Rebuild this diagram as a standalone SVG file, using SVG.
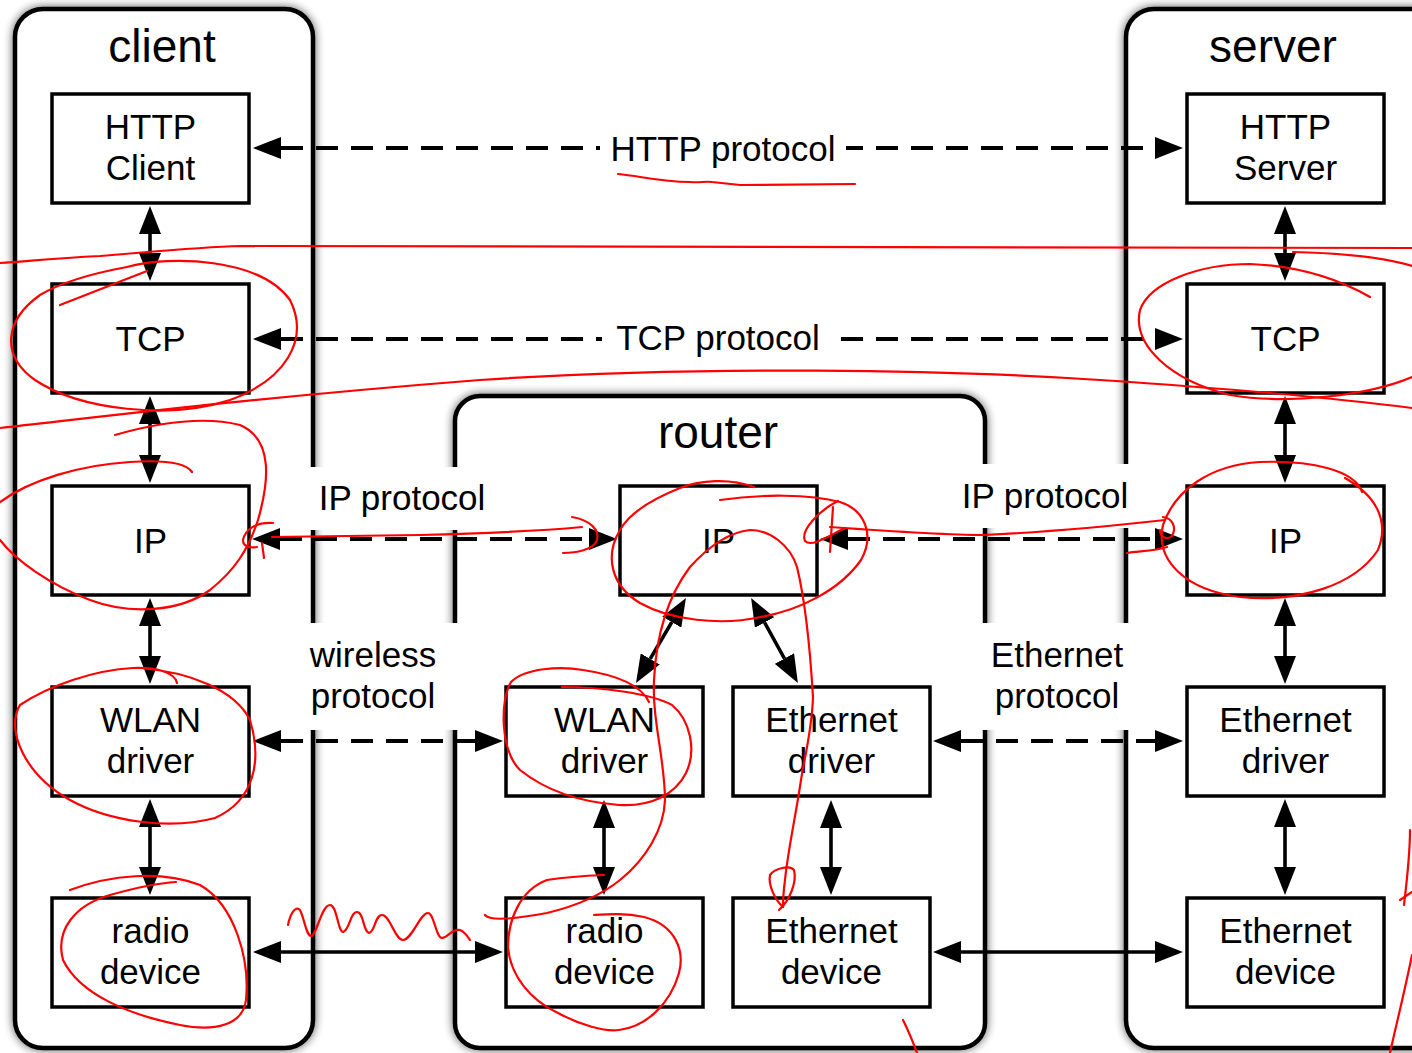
<svg xmlns="http://www.w3.org/2000/svg" width="1412" height="1053" viewBox="0 0 1412 1053">
<style>
.cont{fill:#fff;stroke:#000;stroke-width:4.5;filter:url(#sh)}
.box{fill:#fff;stroke:#000;stroke-width:3.5}
.t{font-family:"Liberation Sans",Arial,Helvetica,sans-serif;font-size:35px;fill:#000;text-anchor:middle}
.title{font-size:46px}
.solid{stroke:#000;stroke-width:3.6;fill:none;marker-start:url(#ah);marker-end:url(#ah)}
.dash{stroke:#000;stroke-width:4;fill:none;stroke-dasharray:22 13;marker-start:url(#ah);marker-end:url(#ah)}
.bg{fill:#fff;stroke:none}
.red{fill:none;stroke:#f00;stroke-width:2.2;stroke-linecap:round;stroke-linejoin:round}
</style>
<defs>
<filter id="sh" x="-10%" y="-5%" width="120%" height="110%">
<feGaussianBlur in="SourceAlpha" stdDeviation="5"/>
<feComponentTransfer><feFuncA type="linear" slope="0.65"/></feComponentTransfer>
<feMerge><feMergeNode/><feMergeNode in="SourceGraphic"/></feMerge>
</filter>
<marker id="ah" viewBox="0 0 28 22" markerWidth="28" markerHeight="22" refX="0" refY="11" orient="auto-start-reverse" markerUnits="userSpaceOnUse">
<path d="M0,0 L28,11 L0,22 z" fill="#000"/>
</marker>
</defs>
<rect width="1412" height="1053" fill="#fff"/>

<g id="client">
<rect class="cont" x="15" y="9" width="298" height="1039" rx="28"/>
<text class="t title" x="162" y="62">client</text>
</g>
<g id="server">
<rect class="cont" x="1126" y="9" width="330" height="1039" rx="28"/>
<text class="t title" x="1273" y="62">server</text>
</g>
<g id="router">
<rect class="cont" x="455" y="396" width="530" height="652" rx="25"/>
<text class="t title" x="718" y="448">router</text>
</g>

<g id="client-http"><rect class="box" x="52" y="94" width="197" height="109"/><text class="t" x="150.5" y="138.5">HTTP</text><text class="t" x="150.5" y="179.5">Client</text></g>
<g id="client-tcp"><rect class="box" x="52" y="284" width="197" height="109"/><text class="t" x="150.5" y="351">TCP</text></g>
<g id="client-ip"><rect class="box" x="52" y="486" width="197" height="109"/><text class="t" x="150.5" y="553">IP</text></g>
<g id="client-wlan"><rect class="box" x="52" y="687" width="197" height="109"/><text class="t" x="150.5" y="731.5">WLAN</text><text class="t" x="150.5" y="772.5">driver</text></g>
<g id="client-radio"><rect class="box" x="52" y="898" width="197" height="109"/><text class="t" x="150.5" y="942.5">radio</text><text class="t" x="150.5" y="983.5">device</text></g>

<g id="server-http"><rect class="box" x="1187" y="94" width="197" height="109"/><text class="t" x="1285.5" y="138.5">HTTP</text><text class="t" x="1285.5" y="179.5">Server</text></g>
<g id="server-tcp"><rect class="box" x="1187" y="284" width="197" height="109"/><text class="t" x="1285.5" y="351">TCP</text></g>
<g id="server-ip"><rect class="box" x="1187" y="486" width="197" height="109"/><text class="t" x="1285.5" y="553">IP</text></g>
<g id="server-eth-driver"><rect class="box" x="1187" y="687" width="197" height="109"/><text class="t" x="1285.5" y="731.5">Ethernet</text><text class="t" x="1285.5" y="772.5">driver</text></g>
<g id="server-eth-device"><rect class="box" x="1187" y="898" width="197" height="109"/><text class="t" x="1285.5" y="942.5">Ethernet</text><text class="t" x="1285.5" y="983.5">device</text></g>

<g id="router-ip"><rect class="box" x="620" y="486" width="197" height="109"/><text class="t" x="718.5" y="553">IP</text></g>
<g id="router-wlan"><rect class="box" x="506" y="687" width="197" height="109"/><text class="t" x="604.5" y="731.5">WLAN</text><text class="t" x="604.5" y="772.5">driver</text></g>
<g id="router-eth-driver"><rect class="box" x="733" y="687" width="197" height="109"/><text class="t" x="831.5" y="731.5">Ethernet</text><text class="t" x="831.5" y="772.5">driver</text></g>
<g id="router-radio"><rect class="box" x="506" y="898" width="197" height="109"/><text class="t" x="604.5" y="942.5">radio</text><text class="t" x="604.5" y="983.5">device</text></g>
<g id="router-eth-device"><rect class="box" x="733" y="898" width="197" height="109"/><text class="t" x="831.5" y="942.5">Ethernet</text><text class="t" x="831.5" y="983.5">device</text></g>

<g id="connectors">
<line class="solid" x1="150" y1="234" x2="150" y2="253"/>
<line class="solid" x1="150" y1="424" x2="150" y2="455"/>
<line class="solid" x1="150" y1="626" x2="150" y2="656"/>
<line class="solid" x1="150" y1="827" x2="150" y2="867"/>
<line class="solid" x1="1285" y1="234" x2="1285" y2="253"/>
<line class="solid" x1="1285" y1="424" x2="1285" y2="455"/>
<line class="solid" x1="1285" y1="626" x2="1285" y2="656"/>
<line class="solid" x1="1285" y1="827" x2="1285" y2="867"/>
<line class="solid" x1="604" y1="828" x2="604" y2="867"/>
<line class="solid" x1="831" y1="828" x2="831" y2="867"/>
<line class="solid" x1="671.8" y1="622.1" x2="650.2" y2="658.9"/>
<line class="solid" x1="764.6" y1="622.5" x2="784.4" y2="658.5"/>
<line class="dash" x1="281" y1="148" x2="1155" y2="148"/>
<line class="dash" x1="281" y1="339" x2="1155" y2="339"/>
<line class="dash" x1="280" y1="539" x2="589" y2="539"/>
<line class="dash" x1="848" y1="539" x2="1155" y2="539"/>
<line class="dash" x1="281" y1="741" x2="475" y2="741"/>
<line class="dash" x1="961" y1="741" x2="1155" y2="741"/>
<line class="solid" x1="281" y1="952" x2="475" y2="952"/>
<line class="solid" x1="961" y1="952" x2="1155" y2="952"/>
</g>

<g id="labels">
<rect class="bg" x="600" y="128" width="246" height="42"/>
<text class="t" x="723" y="160.5">HTTP protocol</text>
<rect class="bg" x="602" y="318" width="238" height="42"/>
<text class="t" x="718" y="350">TCP protocol</text>
<rect class="bg" x="300" y="467" width="165" height="63"/>
<text class="t" x="402" y="510">IP protocol</text>
<rect class="bg" x="945" y="464" width="190" height="64"/>
<text class="t" x="1045" y="508">IP protocol</text>
<rect class="bg" x="300" y="623" width="165" height="107"/>
<text class="t" x="373" y="667">wireless</text>
<text class="t" x="373" y="708">protocol</text>
<rect class="bg" x="975" y="623" width="160" height="107"/>
<text class="t" x="1057" y="667">Ethernet</text>
<text class="t" x="1057" y="708">protocol</text>
</g>

<g id="annotations" class="red">
<path d="M618,174 C640,176 660,182 690,182 C700,183 705,181 712,182 L740,185 L855,184"/>
<path d="M0,263 C40,260 60,258 100,256 C150,252 200,247 240,246 L1412,248"/>
<path d="M0,428 C100,417 250,398 480,380 C700,365 950,370 1100,380 C1250,390 1350,400 1412,408"/>
<path d="M60,305 L147,271"/>
<path d="M127,267 C170,255 260,258 290,300 C310,340 285,380 230,400 C170,420 80,410 35,380 C0,355 5,320 40,295 C65,280 100,272 127,267"/>
<path d="M115,435 C150,425 200,415 240,425 C275,440 268,485 258,520 C248,550 235,570 210,590 C180,612 130,615 90,600 C50,585 15,560 0,540"/>
<path d="M0,502 C30,480 80,465 130,462 C160,460 185,462 192,472"/>
<path d="M273,523 C255,522 245,530 243,540 C243,547 250,548 257,547"/>
<path d="M262,543 L264,558"/>
<path d="M272,537 C300,537 350,536 420,535 C500,533 550,530 582,527"/>
<path d="M572,517 C590,520 600,530 597,540 C594,550 575,553 563,553"/>
<path d="M754,487 C730,478 700,480 680,488 C655,498 630,512 620,530 C605,555 610,585 640,603 C670,620 720,626 761,617 C800,610 840,590 861,560 C875,535 865,510 840,502 C810,494 760,494 720,500"/>
<path d="M838,501 C820,510 800,530 805,541 C812,548 830,535 845,528"/>
<path d="M833,507 L830,552"/>
<path d="M830,527 C900,532 950,535 983,535 C1050,532 1120,525 1165,520"/>
<path d="M1163,517 C1172,518 1177,527 1172,536 C1166,541 1160,536 1160,530"/>
<path d="M1127,553 C1140,551 1155,551 1167,547"/>
<path d="M1362,492 C1355,470 1310,460 1260,462 C1210,465 1175,490 1163,525 C1155,560 1185,590 1240,597 C1300,603 1355,585 1378,550 C1390,520 1375,495 1345,478"/>
<path d="M1370,297 C1340,280 1300,266 1250,264 C1200,264 1150,282 1140,310 C1132,345 1170,380 1230,395 C1290,405 1370,395 1412,377"/>
<path d="M1293,252 C1340,253 1380,256 1412,266"/>
<path d="M177,683 C175,672 155,667 133,668 C95,670 50,685 20,705 C5,730 25,775 70,800 C110,822 170,830 215,818 C255,800 262,760 250,720 C235,690 190,672 140,668"/>
<path d="M70,890 C110,875 160,870 200,885 C235,905 250,960 246,1000 C243,1025 215,1032 180,1025 C130,1015 80,995 63,960 C55,930 75,905 110,895 C135,888 160,883 176,882"/>
<path d="M288,925 C290,915 295,905 300,910 C305,920 306,937 312,936 C318,930 322,905 330,905 C337,905 338,932 343,932 C350,930 350,912 357,912 C364,912 363,932 369,933 C375,932 375,915 382,915 C390,915 395,940 403,940 C412,940 420,913 428,913 C434,913 436,938 442,938 C448,938 452,928 460,930 C465,932 468,937 470,940"/>
<path d="M485,915 C490,922 520,918 547,913 C580,905 604,893 620,880 C645,860 664,830 665,800 C665,760 652,720 654,680 C656,640 665,600 690,567 C710,545 730,532 750,530 C770,530 790,545 797,567 C805,600 810,647 813,697 C812,730 804,760 801,780 C795,820 788,850 785,880 C783,895 783,905 783,907"/>
<path d="M783,907 C775,900 768,885 770,875 C775,868 790,865 794,870 C797,882 790,900 779,910"/>
<path d="M604,875 C580,876 560,878 547,880 C520,890 508,920 508,947 C510,975 530,1000 558,1013 C580,1025 605,1032 619,1030 C645,1027 670,1005 679,973 C685,950 675,925 644,917 C625,913 610,914 594,915"/>
<path d="M562,687 C600,687 650,693 672,705 C690,720 697,750 686,773 C675,795 650,807 619,805 C580,802 545,790 520,770 C500,750 500,700 511,682 C525,668 560,666 583,670 C610,674 640,683 649,702"/>
<path d="M1410,830 C1410,850 1407,880 1404,905 M1400,900 L1412,892 M1412,955 C1405,990 1395,1030 1390,1053"/>
<path d="M903,1020 C908,1030 913,1042 917,1053"/>
</g>
</svg>
